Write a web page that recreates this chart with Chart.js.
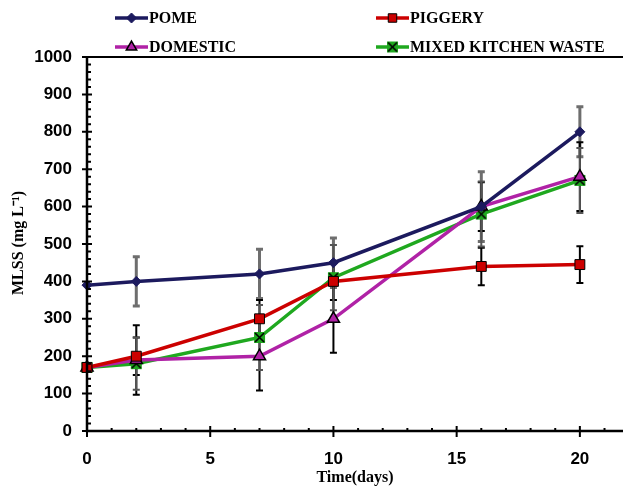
<!DOCTYPE html>
<html>
<head>
<meta charset="utf-8">
<script src="https://cdn.jsdelivr.net/npm/chart.js@4/dist/chart.umd.min.js"></script>
<style>
  html, body { margin: 0; padding: 0; background: #fff; }
  #wrap { width: 624px; height: 489px; }
</style>
</head>
<body>
<div id="wrap"><canvas id="c" width="624" height="489"></canvas></div>
<script>
// ---- data ----
const days      = [0, 2, 7, 10, 16, 20];
const pome      = [390, 400, 420, 450, 600, 800];
const piggery   = [170, 200, 300, 400, 440, 445];
const domestic  = [170, 190, 200, 300, 600, 680];
const kitchen   = [170, 180, 250, 410, 580, 670];
// +/- error (0 = no bar)
const pomeErr     = [0, 66, 66, 66, 93, 67];
const piggeryErr  = [0, 50, 50, 50, 50, 49];
const domesticErr = [0, 93, 92, 91, 65, 92];
const kitchenErr  = [0, 70, 87, 87, 87, 87];
const xTicks = [0, 5, 10, 15, 20];
const yTicks = [0, 100, 200, 300, 400, 500, 600, 700, 800, 900, 1000];

const NAVY = '#1c1a5e', RED = '#cc0000', MAG = '#b022a6', GREEN = '#1fa81f';

// green box with black X for the kitchen-waste marker
function crossBox(){
  const c = document.createElement('canvas');
  c.width = 13; c.height = 13;
  const g = c.getContext('2d');
  g.fillStyle = GREEN; g.fillRect(1, 1, 11, 11);
  g.strokeStyle = '#000'; g.lineWidth = 1.6;
  g.beginPath(); g.moveTo(2, 2); g.lineTo(11, 11); g.moveTo(11, 2); g.lineTo(2, 11); g.stroke();
  return c;
}
const kitchenMark = crossBox();

const pts = (arr) => days.map((d, i) => ({ x: d, y: arr[i] }));

const series = [
  { label: 'POME', data: pts(pome), err: pomeErr, errColor: '#6e6e6e', errWidth: 3,
    borderColor: NAVY, backgroundColor: NAVY, pointStyle: 'rectRot', pointRadius: 5,
    pointBorderColor: NAVY, pointBorderWidth: 1 },
  { label: 'PIGGERY', data: pts(piggery), err: piggeryErr, errColor: '#000', errWidth: 2,
    borderColor: RED, backgroundColor: RED, pointStyle: 'rect', pointRadius: 7,
    pointBorderColor: '#000', pointBorderWidth: 1 },
  { label: 'DOMESTIC', data: pts(domestic), err: domesticErr, errColor: '#000', errWidth: 2,
    borderColor: MAG, backgroundColor: MAG, pointStyle: 'triangle', pointRadius: 7,
    pointBorderColor: '#000', pointBorderWidth: 1.5 },
  { label: 'MIXED KITCHEN WASTE', data: pts(kitchen), err: kitchenErr, errColor: '#555', errWidth: 2,
    borderColor: GREEN, backgroundColor: GREEN, pointStyle: kitchenMark, pointRadius: 6,
    pointBorderColor: '#000', pointBorderWidth: 1 }
];

// error bars, axes with crossing ticks, titles and 2-column legend
const decor = {
  id: 'decor',
  beforeDatasetsDraw(chart){
    const { ctx, scales: { x, y } } = chart;
    ctx.save();
    chart.data.datasets.forEach(ds => {
      ds.data.forEach((p, i) => {
        const e = ds.err[i];
        if (!e) return;
        const px = x.getPixelForValue(p.x);
        const t = y.getPixelForValue(p.y + e), b = y.getPixelForValue(p.y - e);
        ctx.strokeStyle = ds.errColor; ctx.lineWidth = ds.errWidth;
        ctx.beginPath();
        ctx.moveTo(px, t); ctx.lineTo(px, b);
        ctx.moveTo(px - 3.5, t); ctx.lineTo(px + 3.5, t);
        ctx.moveTo(px - 3.5, b); ctx.lineTo(px + 3.5, b);
        ctx.stroke();
      });
    });
    ctx.restore();
  },
  afterDraw(chart){
    const { ctx, chartArea: a, scales: { x, y } } = chart;
    ctx.save();
    ctx.strokeStyle = '#000';
    // axis lines + top border
    ctx.lineWidth = 2.5;
    ctx.beginPath();
    ctx.moveTo(a.left, a.top); ctx.lineTo(a.left, a.bottom); ctx.lineTo(a.right, a.bottom);
    ctx.stroke();
    ctx.lineWidth = 2;
    ctx.beginPath(); ctx.moveTo(a.left, a.top); ctx.lineTo(a.right, a.top); ctx.stroke();
    // y ticks
    ctx.lineWidth = 2;
    ctx.beginPath();
    for (let v = 0; v <= 1000; v += 20) {
      const py = y.getPixelForValue(v);
      if (v % 100 === 0) { ctx.moveTo(a.left - 5, py); ctx.lineTo(a.left + 5, py); }
      else { ctx.moveTo(a.left, py); ctx.lineTo(a.left + 4, py); }
    }
    // x ticks
    for (let v = 0; v <= x.max; v += 1) {
      const px = x.getPixelForValue(v);
      if (v % 5 === 0) { ctx.moveTo(px, a.bottom - 5); ctx.lineTo(px, a.bottom + 6); }
      else { ctx.moveTo(px, a.bottom); ctx.lineTo(px, a.bottom - 3); }
    }
    ctx.stroke();

    // axis titles
    ctx.fillStyle = '#000';
    ctx.font = 'bold 16px "Liberation Serif"';
    ctx.textAlign = 'center'; ctx.textBaseline = 'middle';
    ctx.fillText('Time(days)', (a.left + a.right) / 2, 478);
    ctx.save();
    ctx.translate(19, 243); ctx.rotate(-Math.PI / 2);
    ctx.fillText('MLSS (mg L\u207B\u00B9)', 0, 0);
    ctx.restore();

    // legend, two columns
    const spots = [[115, 18], [376, 18], [115, 47], [376, 47]];
    chart.data.datasets.forEach((ds, i) => {
      const [lx, ly] = spots[i];
      ctx.strokeStyle = ds.borderColor; ctx.lineWidth = 3.5;
      ctx.beginPath(); ctx.moveTo(lx, ly); ctx.lineTo(lx + 33, ly); ctx.stroke();
      ctx.fillStyle = ds.backgroundColor; ctx.strokeStyle = ds.pointBorderColor;
      ctx.lineWidth = ds.pointBorderWidth;
      Chart.helpers.drawPoint(ctx, { pointStyle: ds.pointStyle, radius: ds.pointStyle === 'rectRot' ? 5 : 6,
        rotation: 0, borderWidth: ds.pointBorderWidth }, lx + 16.5, ly);
      ctx.fillStyle = '#000';
      ctx.font = 'bold 16px "Liberation Serif"';
      ctx.textAlign = 'left';
      ctx.fillText(ds.label, lx + 34, ly + 1);
    });
    ctx.restore();
  }
};

const tickFont = { family: 'Liberation Sans', size: 17, weight: 'bold' };

new Chart(document.getElementById('c'), {
  type: 'line',
  data: {
    datasets: series.map(s => Object.assign({ borderWidth: 3.5, tension: 0, fill: false,
      pointHoverRadius: s.pointRadius, clip: false }, s))
  },
  options: {
    responsive: false,
    animation: false,
    layout: { autoPadding: false, padding: { top: 57, right: 1, left: 0, bottom: 0 } },
    plugins: { legend: { display: false }, tooltip: { enabled: false } },
    scales: {
      x: {
        type: 'linear', min: 0, max: 21.75,
        afterBuildTicks: s => { s.ticks = xTicks.map(v => ({ value: v })); },
        afterFit: s => { s.height = 58; s.paddingLeft = 0; s.paddingRight = 0; },
        grid: { display: false, drawTicks: false },
        border: { display: false },
        ticks: { padding: 18, color: '#000', font: tickFont, callback: v => String(v) }
      },
      y: {
        min: 0, max: 1000,
        afterBuildTicks: s => { s.ticks = yTicks.map(v => ({ value: v })); },
        afterFit: s => { s.width = 87; },
        grid: { display: false, drawTicks: false },
        border: { display: false },
        ticks: { padding: 15, color: '#000', font: tickFont, callback: v => String(v) }
      }
    }
  },
  plugins: [decor]
});
</script>
</body>
</html>
